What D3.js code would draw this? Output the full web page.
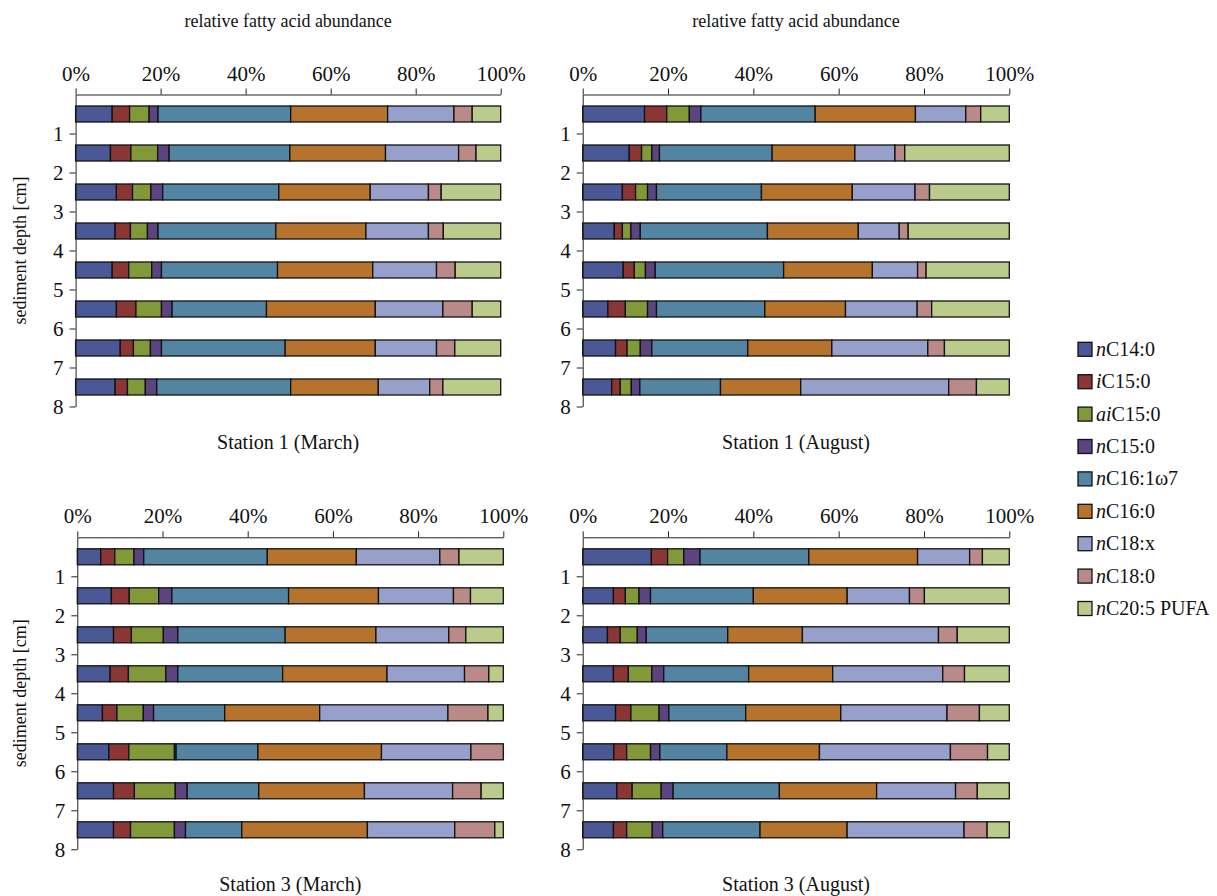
<!DOCTYPE html>
<html>
<head>
<meta charset="utf-8">
<script src="https://cdnjs.cloudflare.com/ajax/libs/d3/7.8.5/d3.min.js"></script>
<style>
  body { margin: 0; background: #fff; }
  svg { font-family: "Liberation Serif", "Times New Roman", serif; }
</style>
</head>
<body>
<div class="main"></div>
<script>
// fatty acids (italic prefix + rest of name)
const acidPrefix = ['n', 'i', 'ai', 'n', 'n', 'n', 'n', 'n', 'n'];
const acidName = ['C14:0', 'C15:0', 'C15:0', 'C15:0', 'C16:1\u03c97', 'C16:0', 'C18:x', 'C18:0', 'C20:5 PUFA'];
const depths = ['0-1', '1-2', '2-3', '3-4', '4-5', '5-6', '6-7', '7-8'];
const depthTicks = [1, 2, 3, 4, 5, 6, 7, 8];
const pctTicks = [0, 0.2, 0.4, 0.6, 0.8, 1];

// % of total per depth slice, order as acidName
const station1March = [
  [8.6, 4.1, 4.6, 2.1, 31.2, 22.8, 15.6, 4.3, 6.7],
  [8.2, 4.8, 6.3, 2.7, 28.4, 22.5, 17.2, 4.1, 5.8],
  [9.6, 3.8, 4.3, 2.8, 27.3, 21.5, 13.7, 3.0, 14.0],
  [9.3, 3.6, 4.0, 2.5, 27.7, 21.2, 14.7, 3.5, 13.5],
  [8.6, 3.9, 5.4, 2.3, 27.3, 22.4, 15.0, 4.4, 10.7],
  [9.6, 4.6, 6.0, 2.5, 22.2, 25.6, 15.9, 6.9, 6.7],
  [10.5, 3.1, 4.0, 2.6, 29.1, 21.2, 14.4, 4.3, 10.8],
  [9.3, 2.9, 4.2, 2.7, 31.5, 20.6, 12.1, 3.1, 13.6]
];
const station1August = [
  [14.5, 5.2, 5.3, 2.7, 26.8, 23.5, 11.8, 3.5, 6.7],
  [10.9, 2.9, 2.4, 1.8, 26.4, 19.4, 9.4, 2.3, 24.5],
  [9.3, 3.1, 2.8, 2.1, 24.6, 21.3, 14.7, 3.4, 18.7],
  [7.4, 1.9, 2.0, 2.2, 29.8, 21.3, 9.6, 2.1, 23.7],
  [9.5, 2.6, 2.6, 2.3, 30.1, 20.8, 10.6, 2.0, 19.5],
  [5.9, 4.1, 5.2, 2.1, 25.4, 18.9, 16.8, 3.4, 18.2],
  [7.7, 2.7, 3.1, 2.7, 22.5, 19.7, 22.5, 3.9, 15.2],
  [6.8, 2.0, 2.6, 2.0, 18.9, 18.8, 34.7, 6.5, 7.7]
];
const station3March = [
  [5.5, 3.3, 4.5, 2.3, 29.0, 20.9, 19.6, 4.5, 10.4],
  [8.0, 4.2, 6.9, 3.1, 27.4, 21.1, 17.6, 4.0, 7.7],
  [8.5, 4.2, 7.5, 3.4, 25.2, 21.3, 17.1, 4.0, 8.8],
  [7.7, 4.3, 8.8, 2.8, 24.6, 24.5, 18.2, 5.7, 3.4],
  [5.9, 3.4, 6.2, 2.4, 16.7, 22.3, 30.1, 9.4, 3.6],
  [7.4, 4.7, 10.7, 0.4, 19.2, 29.0, 21.0, 7.6, 0],
  [8.5, 4.9, 9.6, 2.8, 16.8, 24.8, 20.7, 6.7, 5.2],
  [8.5, 4.0, 10.3, 2.6, 13.2, 29.5, 20.5, 9.4, 2.0]
];
const station3August = [
  [16.1, 3.8, 3.8, 3.8, 25.5, 25.5, 12.2, 3.0, 6.3],
  [7.2, 2.8, 3.2, 2.7, 24.1, 22.0, 14.6, 3.5, 19.9],
  [5.8, 3.0, 4.0, 2.1, 19.1, 17.5, 31.9, 4.4, 12.2],
  [7.2, 3.5, 5.5, 2.8, 19.9, 19.7, 25.8, 5.1, 10.5],
  [7.7, 3.6, 6.6, 2.3, 18.0, 22.3, 24.9, 7.6, 7.0],
  [7.3, 3.0, 5.6, 2.2, 15.7, 21.7, 30.7, 8.7, 5.1],
  [8.0, 3.6, 6.8, 2.8, 24.9, 22.8, 18.5, 5.1, 7.5],
  [7.2, 3.1, 6.0, 2.45, 22.8, 20.4, 27.4, 5.4, 5.2]
];

const colors = ['#4a5896', '#8a3634', '#82993a', '#5c4480', '#5385a2', '#b5732e', '#96a0cb', '#b98a88', '#bbcb8b'];

// where each panel sits
let panels = [
  { title: 'Station 1 (March)', rows: station1March, left: 75.6, right: 500.7, top: 94.5, bottom: 406.5, first: true, yLabel: true },
  { title: 'Station 1 (August)', rows: station1August, left: 582.7, right: 1009.3, top: 94.5, bottom: 406.5, first: true, yLabel: false },
  { title: 'Station 3 (March)', rows: station3March, left: 77.3, right: 503.3, top: 537.3, bottom: 849.3, first: false, yLabel: true },
  { title: 'Station 3 (August)', rows: station3August, left: 582.7, right: 1009.3, top: 537.3, bottom: 849.3, first: false, yLabel: false }
];

let svg = d3.select('.main').append('svg')
  .attr('width', 1217)
  .attr('height', 896);

let stack = d3.stack()
  .keys(d3.range(acidName.length))
  .value((row, k) => row[k])
  .offset(d3.stackOffsetExpand);

panels.forEach(p => {
  let x = d3.scaleLinear().domain([0, 1]).range([p.left, p.right]);
  let yLin = d3.scaleLinear().domain([0, 8]).range([p.top, p.bottom]);
  let yBand = d3.scaleBand().domain(depths).range([p.top, p.bottom])
    .paddingInner(0.59).paddingOuter(0.295);

  let g = svg.append('g');

  g.selectAll('g.series')
    .data(stack(p.rows))
    .join('g')
    .attr('class', 'series')
    .attr('fill', (d, k) => colors[k])
    .selectAll('rect')
    .data(d => d)
    .join('rect')
    .attr('x', d => x(d[0]))
    .attr('width', d => x(d[1]) - x(d[0]))
    .attr('y', (d, i) => yBand(depths[i]))
    .attr('height', yBand.bandwidth())
    .attr('stroke', '#111')
    .attr('stroke-width', 1.3);

  let top = g.append('g')
    .attr('transform', `translate(0,${p.top})`)
    .call(d3.axisTop(x).tickValues(pctTicks).tickFormat(d3.format('.0%'))
      .tickSize(6).tickSizeOuter(0).tickPadding(8));

  let left = g.append('g')
    .attr('transform', `translate(${p.left},0)`)
    .call(d3.axisLeft(yLin).tickValues(depthTicks)
      .tickSize(6).tickSizeOuter(0).tickPadding(6));

  [top, left].forEach(a => {
    a.attr('font-family', null).attr('font-size', 21);
    a.selectAll('path, line').attr('stroke', '#222');
    a.selectAll('text').attr('fill', '#111');
  });

  let mid = (p.left + p.right) / 2;
  g.append('text')
    .attr('x', mid)
    .attr('y', p.bottom + 42)
    .attr('text-anchor', 'middle')
    .attr('font-size', 20)
    .attr('fill', '#111')
    .text(p.title);

  if (p.first) {
    g.append('text')
      .attr('x', mid)
      .attr('y', 27)
      .attr('text-anchor', 'middle')
      .attr('font-size', 18)
      .attr('fill', '#111')
      .text('relative fatty acid abundance');
  }

  if (p.yLabel) {
    g.append('text')
      .attr('transform', `translate(26,${(p.top + p.bottom) / 2}) rotate(-90)`)
      .attr('text-anchor', 'middle')
      .attr('font-size', 18)
      .attr('fill', '#111')
      .text('sediment depth [cm]');
  }
});

// legend
let legend = svg.append('g').selectAll('g')
  .data(acidName)
  .join('g')
  .attr('transform', (d, i) => `translate(1078,${349.3 + i * 32.4})`);

legend.append('rect')
  .attr('x', 0)
  .attr('y', -7)
  .attr('width', 14)
  .attr('height', 14)
  .attr('fill', (d, i) => colors[i])
  .attr('stroke', '#111')
  .attr('stroke-width', 1.3);

let lt = legend.append('text')
  .attr('x', 18)
  .attr('y', 6.5)
  .attr('font-size', 20)
  .attr('fill', '#111');
lt.append('tspan').attr('font-style', 'italic').text((d, i) => acidPrefix[i]);
lt.append('tspan').text(d => d);
</script>
</body>
</html>
